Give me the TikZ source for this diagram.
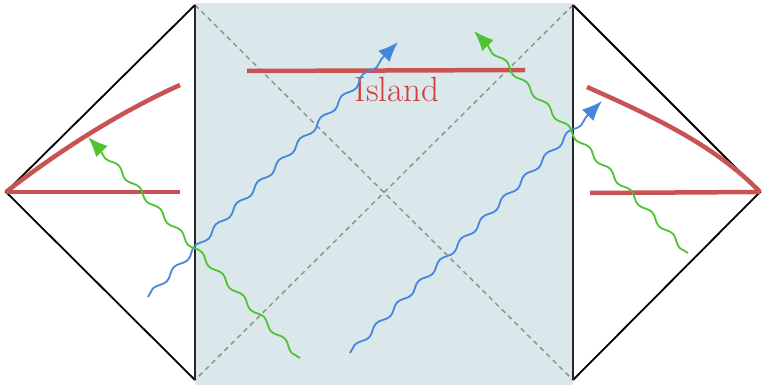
\documentclass[tikz,border=0pt]{standalone}
\usetikzlibrary{arrows.meta,decorations.pathmorphing}
\definecolor{islandbg}{RGB}{219,232,235}
\definecolor{redline}{RGB}{201,82,82}
\definecolor{redtext}{RGB}{210,60,60}
\definecolor{bluewave}{RGB}{70,135,220}
\definecolor{greenwave}{RGB}{80,195,50}
\definecolor{edgegray}{RGB}{40,40,40}
\tikzset{
  border/.style={line width=1.8pt, draw=black},
  wall/.style={line width=2.2pt, draw=edgegray},
  diag/.style={line width=1.5pt, draw=gray!85, dash pattern=on 5pt off 4pt},
  surface/.style={line width=4.5pt, draw=redline},
  wavy/.style={line width=1.8pt, decorate,
    decoration={snake, amplitude=2.5pt, segment length=30pt, post length=16pt}},
  bluearrow/.style={wavy, draw=bluewave, -{Latex[length=20pt,width=16pt]}},
  greenarrow/.style={wavy, draw=greenwave, -{Latex[length=20pt,width=16pt]}},
}
\begin{document}
\begin{tikzpicture}[x=1pt,y=-1pt]
\useasboundingbox (0,0) rectangle (765,387);
% corners
\coordinate (LA) at (6,192);
\coordinate (LT) at (195,5);
\coordinate (LB) at (195,380);
\coordinate (RT) at (573,5);
\coordinate (RB) at (573,380);
\coordinate (RA) at (760,192);
% shaded region
\fill[islandbg] (195,3) rectangle (573,385);
% dashed horizons
\draw[diag] (LT) -- (RB);
\draw[diag] (RT) -- (LB);
% boundaries
\draw[border, line join=miter] (LT) -- (LA) -- (LB);
\draw[border, line join=miter] (RT) -- (RA) -- (RB);
\draw[wall] (LT) -- (LB);
\draw[wall] (RT) -- (RB);
% red surfaces
\coordinate (LH) at (180,192);
\coordinate (LC) at (180,85);
\coordinate (RH) at (590,193);
\coordinate (RC) at (587,87);
\coordinate (IL) at (247,71);
\coordinate (IR) at (525,70);
\draw[surface] (LA) -- (LH);
\draw[surface] (LA) .. controls (60,150) and (120,112) .. (LC);
\draw[surface] (RH) -- (RA);
\draw[surface] (RC) .. controls (650,115) and (715,145) .. (RA);
\draw[surface] (IL) -- (IR);
\node[text=redtext, font=\fontsize{35}{38}\selectfont] (island) at (397,89) {Island};
% Hawking radiation quanta
\coordinate (b1s) at (148,297);
\coordinate (b1e) at (398,42);
\coordinate (b2s) at (350,353);
\coordinate (b2e) at (602,101);
\coordinate (g1s) at (300,358);
\coordinate (g1e) at (88,137);
\coordinate (g2s) at (688,253);
\coordinate (g2e) at (474,31);
\draw[bluearrow] (b1s) -- (b1e);
\draw[bluearrow] (b2s) -- (b2e);
\draw[greenarrow] (g1s) -- (g1e);
\draw[greenarrow] (g2s) -- (g2e);
\end{tikzpicture}
\end{document}
